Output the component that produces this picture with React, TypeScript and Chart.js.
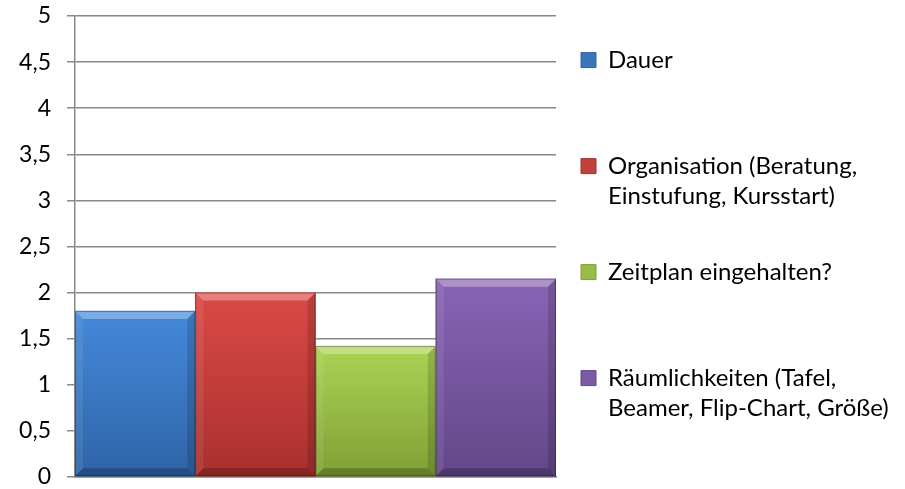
import React, { useEffect, useRef } from 'react';
import { Chart, registerables } from 'chart.js';

Chart.register(...registerables);

const categories = [''];
const legendLines = [
  ['Dauer'],
  ['Organisation (Beratung,', 'Einstufung, Kursstart)'],
  ['Zeitplan eingehalten?'],
  ['Räumlichkeiten (Tafel,', 'Beamer, Flip-Chart, Größe)'],
];
const dauer = [1.8];
const organisation = [2.0];
const zeitplan = [1.42];
const raeumlichkeiten = [2.15];
const yTickLabels = ['0', '0,5', '1', '1,5', '2', '2,5', '3', '3,5', '4', '4,5', '5'];

const seriesValues = [dauer, organisation, zeitplan, raeumlichkeiten];
const topColors = ['#4489da', '#db4a46', '#aad455', '#8964b4'];
const bottomColors = ['#2f64a6', '#a8302e', '#819f36', '#634788'];
const legendColors = ['#3b74bb', '#c0403c', '#98bb4a', '#7a5aa3'];

const FONT = 'Lato, "Open Sans", sans-serif';
const LEGEND_WIDTH = 340;

const bevelPlugin = {
  id: 'bevel',
  beforeUpdate(chart: any) {
    const lg = chart.legend;
    if (lg && !lg.__patched) {
      const orig = lg.fit.bind(lg);
      lg.fit = () => {
        orig();
        lg.width = LEGEND_WIDTH;
      };
      lg.__patched = true;
    }
  },
  afterDatasetsDraw(chart: any) {
    const c = chart.ctx;
    chart.data.datasets.forEach((_ds: any, di: number) => {
      const meta = chart.getDatasetMeta(di);
      meta.data.forEach((bar: any) => {
        const { x, y, base, width } = bar.getProps(['x', 'y', 'base', 'width'], true);
        const x1 = x - width / 2;
        const x2 = x + width / 2;
        const y1 = Math.min(y, base);
        const y2 = Math.max(y, base);
        const b = Math.min(8, width / 4, (y2 - y1) / 4);
        const poly = (pts: number[][], fill: string) => {
          c.beginPath();
          c.moveTo(pts[0][0], pts[0][1]);
          for (let k = 1; k < pts.length; k++) c.lineTo(pts[k][0], pts[k][1]);
          c.closePath();
          c.fillStyle = fill;
          c.fill();
        };
        c.save();
        poly([[x1, y1], [x2, y1], [x2 - b, y1 + b], [x1 + b, y1 + b]], 'rgba(255,255,255,0.30)');
        poly([[x1, y1], [x1 + b, y1 + b], [x1 + b, y2 - b], [x1, y2]], 'rgba(255,255,255,0.08)');
        poly([[x2, y1], [x2, y2], [x2 - b, y2 - b], [x2 - b, y1 + b]], 'rgba(0,0,0,0.14)');
        poly([[x1, y2], [x1 + b, y2 - b], [x2 - b, y2 - b], [x2, y2]], 'rgba(0,0,0,0.22)');
        c.strokeStyle = 'rgba(0,0,0,0.30)';
        c.lineWidth = 1;
        c.strokeRect(x1 + 0.5, y1 + 0.5, width - 1, y2 - y1 - 1);
        c.restore();
      });
    });
  },
};

export default function App() {
  const canvasRef = useRef<HTMLCanvasElement | null>(null);

  useEffect(() => {
    if (!canvasRef.current) return;
    const datasets = seriesValues.map((vals, i) => ({
      label: legendLines[i].join(' '),
      data: vals,
      borderWidth: 0,
      categoryPercentage: 1,
      barPercentage: 1,
      backgroundColor: (ctx: any) => {
        const chart = ctx.chart;
        const area = chart.chartArea;
        const ys = chart.scales && chart.scales.y;
        if (!area || !ys || ctx.raw === undefined) return legendColors[i];
        const top = ys.getPixelForValue(ctx.raw);
        const g = chart.ctx.createLinearGradient(0, top, 0, area.bottom);
        g.addColorStop(0, topColors[i]);
        g.addColorStop(1, bottomColors[i]);
        return g;
      },
    }));

    const chart = new Chart(canvasRef.current, {
      type: 'bar',
      data: { labels: categories, datasets },
      plugins: [bevelPlugin],
      options: {
        animation: false,
        responsive: true,
        maintainAspectRatio: false,
        layout: { padding: { top: 16, bottom: 12, left: 0, right: 0 } },
        plugins: {
          tooltip: { enabled: false },
          legend: {
            position: 'right',
            align: 'center',
            title: { display: true, text: ' ', font: { size: 1 }, padding: { top: 5, bottom: 5 } },
            labels: {
              color: '#000',
              font: { family: FONT, size: 24, lineHeight: 1.25 },
              boxWidth: 15,
              boxHeight: 15,
              padding: 16,
              generateLabels: () =>
                legendLines.map((lines, i) => {
                  const t = lines.slice();
                  while (t.length < 3) t.push('');
                  return {
                    text: t as any,
                    fillStyle: legendColors[i],
                    strokeStyle: bottomColors[i],
                    lineWidth: 1,
                    hidden: false,
                    datasetIndex: i,
                    fontColor: '#000',
                  } as any;
                }),
            },
          },
        },
        scales: {
          x: {
            grid: { display: false },
            border: { display: true, color: '#888888', width: 1.5 },
            ticks: { display: false },
            afterFit: (s: any) => {
              s.height = 0;
            },
          },
          y: {
            min: 0,
            max: 5,
            ticks: {
              stepSize: 0.5,
              color: '#000',
              padding: 16,
              font: { family: FONT, size: 23 },
              callback: (_v: any, idx: number) => yTickLabels[idx],
            },
            grid: { color: '#888888', lineWidth: 1.5, tickLength: 8, drawTicks: true },
            border: { display: true, color: '#888888', width: 1.5 },
            afterFit: (s: any) => {
              s.width = 75;
              s.paddingTop = 0;
              s.paddingBottom = 0;
            },
          },
          y2: {
            position: 'right',
            display: true,
            min: 0,
            max: 1,
            grid: { display: false },
            border: { display: false },
            ticks: { display: false },
            afterFit: (s: any) => {
              s.width = 9;
            },
          },
        },
      } as any,
    });
    return () => chart.destroy();
  }, []);

  return (
    <div style={{ position: 'fixed', left: 0, top: 0, width: 905, height: 489, background: '#fff' }}>
      <canvas ref={canvasRef} />
    </div>
  );
}
